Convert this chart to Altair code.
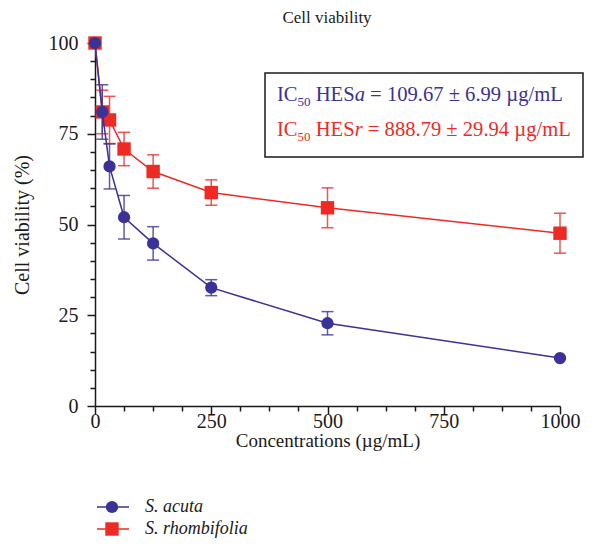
import altair as alt
import pandas as pd

# ---- data ----
conc = [0, 15.625, 31.25, 62.5, 125, 250, 500, 1000]
acuta_mean = [100, 81, 66, 52, 44.8, 32.6, 22.8, 13.2]
acuta_sd = [0, 7.5, 6.2, 6.0, 4.6, 2.2, 3.2, 0.3]
rhombi_mean = [100, 81, 78.8, 70.8, 64.6, 58.8, 54.6, 47.6]
rhombi_sd = [0, 6.0, 6.5, 4.6, 4.6, 3.5, 5.5, 5.5]
series = ["S. acuta", "S. rhombifolia"]
colors = ["#3a3296", "#ee2a24"]
shapes = ["circle", "square"]
x_major = [0, 250, 500, 750, 1000]
x_minor = [62.5, 125, 187.5, 312.5, 375, 437.5, 562.5, 625, 687.5, 812.5, 875, 937.5]
y_major = [0, 25, 50, 75, 100]
y_minor = [5, 10, 15, 20, 30, 35, 40, 45, 55, 60, 65, 70, 80, 85, 90, 95]
title_text = "Cell viability"
x_title = "Concentrations (µg/mL)"
y_title = "Cell viability (%)"
ic50_lines = [
    [("IC", "normal", 20.6, 0), ("50", "normal", 13, 5), (" HES", "normal", 20.6, 0),
     ("a", "italic", 20.6, 0), (" = 109.67 ± 6.99 µg/mL", "normal", 20.6, 0)],
    [("IC", "normal", 20.6, 0), ("50", "normal", 13, 5), (" HES", "normal", 20.6, 0),
     ("r", "italic", 20.6, 0), (" = 888.79 ± 29.94 µg/mL", "normal", 20.6, 0)],
]

FONT = "Liberation Serif"
W, H = 465, 363

# Times metrics (per 1000 em) for laying out the mixed-style annotation
TR = {" ": 250, "I": 333, "C": 667, "H": 722, "E": 611, "S": 556, "a": 444, "r": 333,
      "=": 564, ".": 250, "±": 564, "µ": 500, "g": 500, "/": 278, "m": 778, "L": 611}
TI = {"a": 500, "r": 389}


def text_w(s, style, size):
    tot = 0
    for ch in s:
        if ch.isdigit():
            tot += 500
        elif style == "italic" and ch in TI:
            tot += TI[ch]
        else:
            tot += TR.get(ch, 500)
    return tot / 1000 * size


frames = []
for name, m, sd in [(series[0], acuta_mean, acuta_sd), (series[1], rhombi_mean, rhombi_sd)]:
    frames.append(pd.DataFrame({
        "conc": conc, "mean": m,
        "lo": [a - b for a, b in zip(m, sd)],
        "hi": [a + b for a, b in zip(m, sd)],
        "series": name,
    }))

xs = alt.Scale(domain=[0, 1000], nice=False, zero=False)
ys = alt.Scale(domain=[0, 100], nice=False, zero=False)

axis_common = dict(grid=False, domainColor="#1a1a1a", domainWidth=1.5, tickColor="#1a1a1a",
                   tickWidth=1.5, labelFont=FONT, labelFontSize=20, labelColor="#1a1a1a",
                   titleFont=FONT, titleColor="#1a1a1a", titleFontWeight="normal")

x_axis_major = alt.Axis(values=x_major, tickSize=8, labelPadding=-3, format="d", labelFlush=False,
                        title=x_title, titleFontSize=19, titleX=W / 2, titleY=34, titleAlign="center",
                        titleBaseline="middle", orient="bottom", **axis_common)
y_axis_major = alt.Axis(values=y_major, tickSize=8, labelPadding=9, format="d",
                        title=y_title, titleFontSize=20, titleX=-73, titleY=H / 2, titleAngle=-90,
                        titleAlign="center", titleBaseline="middle", orient="left", **axis_common)
x_axis_minor = alt.Axis(values=x_minor, tickSize=5, labels=False, domain=False, grid=False,
                        tickColor="#1a1a1a", tickWidth=1.5, title=None, orient="bottom")
y_axis_minor = alt.Axis(values=y_minor, tickSize=5, labels=False, domain=False, grid=False,
                        tickColor="#1a1a1a", tickWidth=1.5, title=None, orient="left")

layers = []
# order: red series first so blue is drawn on top
for idx in [1, 0]:
    df = frames[idx]
    col = colors[idx]
    base = alt.Chart(df)
    if idx == 1:
        xa, ya = x_axis_minor, y_axis_minor
    else:
        xa, ya = None, None
    rule = base.mark_rule(color=col, strokeWidth=1.5, opacity=0.8).encode(
        x=alt.X("conc:Q", scale=xs, axis=xa),
        y=alt.Y("lo:Q", scale=ys, axis=ya),
        y2="hi:Q",
    )
    cap_lo = base.mark_tick(color=col, orient="horizontal", size=12, thickness=1.5, opacity=0.8).encode(
        x=alt.X("conc:Q", scale=xs, axis=None), y=alt.Y("lo:Q", scale=ys, axis=None))
    cap_hi = base.mark_tick(color=col, orient="horizontal", size=12, thickness=1.5, opacity=0.8).encode(
        x=alt.X("conc:Q", scale=xs, axis=None), y=alt.Y("hi:Q", scale=ys, axis=None))
    line = base.mark_line(color=col, strokeWidth=1.5).encode(
        x=alt.X("conc:Q", scale=xs, axis=None), y=alt.Y("mean:Q", scale=ys, axis=None))
    if idx == 0:
        pxa, pya = x_axis_major, y_axis_major
    else:
        pxa, pya = None, None
    pts = base.mark_point(shape=shapes[idx], filled=True, color=col, opacity=1,
                          size=150 if shapes[idx] == "circle" else 180).encode(
        x=alt.X("conc:Q", scale=xs, axis=pxa), y=alt.Y("mean:Q", scale=ys, axis=pya))
    layers += [rule, cap_lo, cap_hi, line, pts]

# chart title
layers.append(alt.Chart(pd.DataFrame({"t": [title_text]})).mark_text(
    font=FONT, fontSize=17, color="#1a1a1a", align="center", baseline="middle").encode(
    text="t:N", x=alt.value(232), y=alt.value(-25)))

# IC50 box
layers.append(alt.Chart(pd.DataFrame({"a": [0]})).mark_rect(
    fill="white", stroke="#1a1a1a", strokeWidth=1.5).encode(
    x=alt.value(170), x2=alt.value(488), y=alt.value(30), y2=alt.value(114)))
for li, segs in enumerate(ic50_lines):
    x0 = 182
    base_y = 58 + li * 35
    for txt, style, size, dy in segs:
        stripped = txt.lstrip(" ")
        x0 += text_w(txt[: len(txt) - len(stripped)], style, size)
        layers.append(alt.Chart(pd.DataFrame({"t": [stripped]})).mark_text(
            font=FONT, fontSize=size, fontStyle=style, color=colors[li],
            align="left", baseline="alphabetic").encode(
            text="t:N", x=alt.value(x0), y=alt.value(base_y + dy)))
        x0 += text_w(stripped, style, size)

# manual legend below the plot
for i, name in enumerate(series):
    ly = 464 + 22 * i
    ldf = pd.DataFrame({"s": [name]})
    layers.append(alt.Chart(ldf).mark_rule(color=colors[i], strokeWidth=1.5).encode(
        x=alt.value(2), x2=alt.value(34), y=alt.value(ly)))
    layers.append(alt.Chart(ldf).mark_point(shape=shapes[i], filled=True, color=colors[i], opacity=1,
                                            size=150 if shapes[i] == "circle" else 180).encode(
        x=alt.value(17), y=alt.value(ly)))
    layers.append(alt.Chart(ldf).mark_text(font=FONT, fontSize=18, fontStyle="italic", color="#1a1a1a",
                                           align="left", baseline="middle").encode(
        text="s:N", x=alt.value(50), y=alt.value(ly)))

chart = alt.layer(*layers).resolve_axis(x="independent", y="independent").properties(
    width=W, height=H,
    padding={"left": 87, "top": 35, "right": 38, "bottom": 133},
    autosize=alt.AutoSizeParams(type="none"),
    background="white",
).configure_view(stroke=None)

chart.save("out.html", embed_options={"renderer": "svg", "actions": False})
